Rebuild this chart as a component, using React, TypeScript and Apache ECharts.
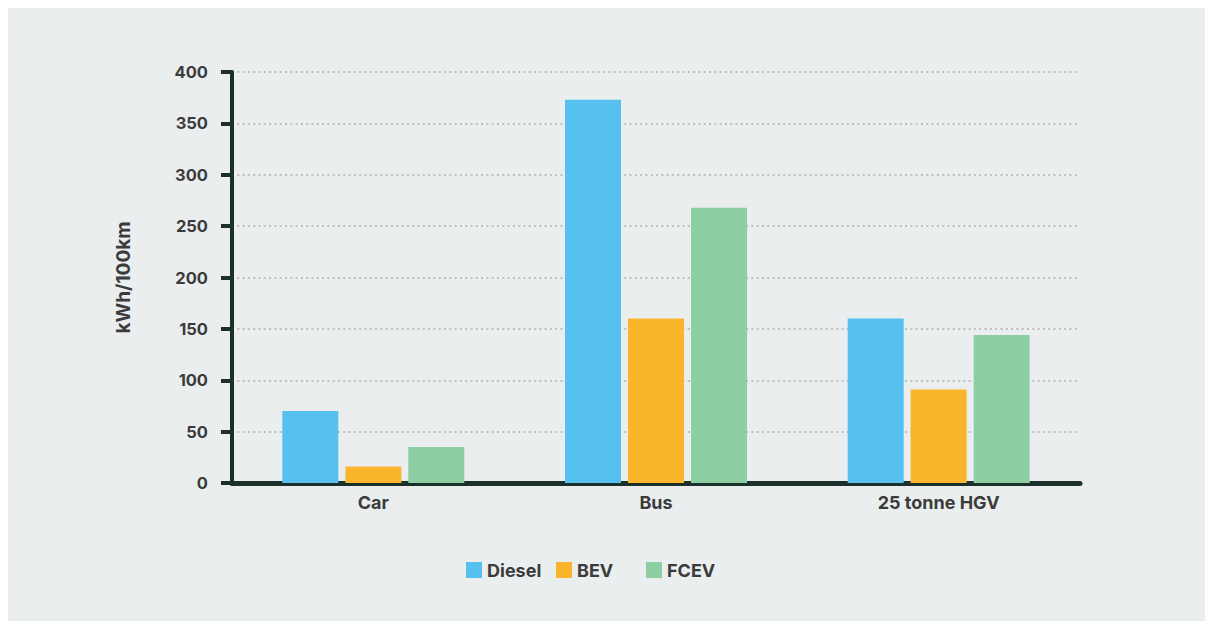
import React, { useEffect, useRef } from "react";
import * as echarts from "echarts";

const categories = ["Car", "Bus", "25 tonne HGV"];
const seriesNames = ["Diesel", "BEV", "FCEV"];
const dieselValues = [70, 373, 160];
const bevValues = [16, 160, 91];
const fcevValues = [35, 268, 144];
const yTicks = { min: 0, max: 400, interval: 50 };
const colors = ["#56C1EE", "#FBB52D", "#8DCFA3"];

const FONT = "Inter, 'Noto Sans', sans-serif";
const TEXT = "#3b3b3b";
const AXIS = "#1c302b";

export default function App() {
  const ref = useRef<HTMLDivElement>(null);
  useEffect(() => {
    if (!ref.current) return;
    const chart = echarts.init(ref.current, null, { renderer: "svg" });
    const values = [dieselValues, bevValues, fcevValues];
    const legendLefts = [453, 543, 633];
    chart.setOption({
      animation: false,
      backgroundColor: "#EAEEEF",
      textStyle: { fontFamily: FONT },
      grid: { left: 224, right: 125, top: 64, bottom: 138 },
      legend: seriesNames.map((n, i) => ({
        data: [n],
        left: legendLefts[i],
        top: 548,
        itemWidth: 16,
        itemHeight: 16,
        icon: "rect",
        textStyle: { fontFamily: FONT, fontSize: 18, fontWeight: "bold", color: TEXT },
      })),
      xAxis: {
        type: "category",
        data: categories,
        axisLine: { show: true, lineStyle: { color: AXIS, width: 5 } },
        axisTick: { show: false },
        axisLabel: { fontFamily: FONT, fontSize: 18, fontWeight: "bold", color: TEXT, margin: 10 },
      },
      yAxis: {
        type: "value",
        min: yTicks.min,
        max: yTicks.max,
        interval: yTicks.interval,
        name: "kWh/100km",
        nameLocation: "middle",
        nameRotate: 90,
        nameGap: 99,
        nameTextStyle: { fontFamily: FONT, fontSize: 19, fontWeight: "bold", color: TEXT },
        axisLine: { show: true, lineStyle: { color: AXIS, width: 4 } },
        axisTick: { show: true, length: 11, lineStyle: { color: AXIS, width: 4 } },
        axisLabel: { fontFamily: FONT, fontSize: 16.5, fontWeight: "bold", color: TEXT, margin: 24 },
        splitLine: { show: true, lineStyle: { color: "#BDBFC0", width: 2, type: [2, 3.3] } },
      },
      series: seriesNames.map((n, i) => ({
        name: n,
        type: "bar",
        data: values[i],
        itemStyle: { color: colors[i] },
        barWidth: 56,
        barGap: "12.5%",
      })),
    });
    return () => chart.dispose();
  }, []);
  return <div ref={ref} style={{ width: 1197, height: 613 }} />;
}
